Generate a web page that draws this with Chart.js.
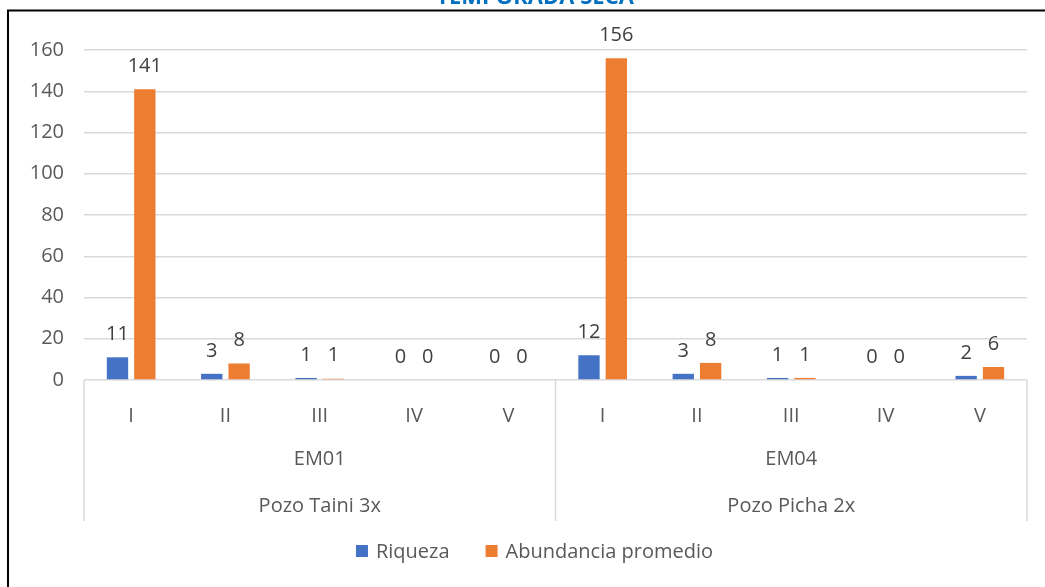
<!DOCTYPE html>
<html>
<head>
<meta charset="utf-8">
<script src="https://cdn.jsdelivr.net/npm/chart.js@4/dist/chart.umd.min.js"></script>
<style>
  html, body { margin: 0; padding: 0; background: #fff; }
  #wrap { width: 1045px; height: 587px; position: relative; }
</style>
</head>
<body>
<div id="wrap"><canvas id="chart"></canvas></div>
<script>
// data
const periods = ['I', 'II', 'III', 'IV', 'V']
const stations = ['EM01', 'EM04']
const wells = ['Pozo Taini 3x', 'Pozo Picha 2x']
const riqueza = [11, 3, 1, 0, 0, 12, 3, 1, 0, 2]
const abundancia = [141, 8, 0.6, 0, 0, 156, 8.3, 1, 0, 6.3]
const yTicks = [0, 20, 40, 60, 80, 100, 120, 140, 160]
const chartTitle = 'TEMPORADA SECA'

const FONT = '"Open Sans", Lato, sans-serif'
const TEXT = '#595959'
const GRID = '#D9D9D9'

// frame + clipped title
const framePlugin = {
  id: 'frame',
  afterDraw(chart) {
    const ctx = chart.ctx
    ctx.save()
    ctx.strokeStyle = '#000'
    ctx.lineWidth = 2
    ctx.beginPath()
    ctx.moveTo(8, chart.height + 2)
    ctx.lineTo(8, 10.5)
    ctx.lineTo(chart.width + 2, 10.5)
    ctx.stroke()
    ctx.fillStyle = '#0070C0'
    ctx.font = 'bold 22px ' + FONT
    ctx.textAlign = 'center'
    ctx.textBaseline = 'alphabetic'
    ctx.fillText(chartTitle, 535, 4)
    ctx.restore()
  }
}

// multi-level category axis: separators, station and well labels
const groupAxisPlugin = {
  id: 'groupAxis',
  afterDraw(chart) {
    const { ctx, chartArea } = chart
    const x = chart.scales.x
    const n = chart.data.labels.length
    const w = (x.right - x.left) / n
    const per = periods.length
    const bottom = chartArea.bottom
    ctx.save()
    ctx.strokeStyle = GRID
    ctx.lineWidth = 1.5
    for (let g = 0; g <= stations.length; g++) {
      const px = x.left + g * per * w
      ctx.beginPath()
      ctx.moveTo(px, bottom)
      ctx.lineTo(px, bottom + 141)
      ctx.stroke()
    }
    ctx.fillStyle = TEXT
    ctx.font = '20px ' + FONT
    ctx.textAlign = 'center'
    ctx.textBaseline = 'middle'
    stations.forEach((s, g) => {
      const cx = x.left + (g + 0.5) * per * w
      ctx.fillText(s, cx, bottom + 79)
      ctx.fillText(wells[g], cx, bottom + 126)
    })
    ctx.restore()
  }
}

// value labels above bars
const valueLabelPlugin = {
  id: 'valueLabels',
  afterDatasetsDraw(chart) {
    const ctx = chart.ctx
    ctx.save()
    ctx.fillStyle = '#404040'
    ctx.font = '20px ' + FONT
    ctx.textAlign = 'center'
    ctx.textBaseline = 'middle'
    chart.data.datasets.forEach((ds, i) => {
      chart.getDatasetMeta(i).data.forEach((bar, j) => {
        ctx.fillText(String(Math.round(ds.data[j])), bar.x, bar.y - 23)
      })
    })
    ctx.restore()
  }
}

// legend drawn centred under the axis
const legendPlugin = {
  id: 'bottomLegend',
  afterDraw(chart) {
    const ctx = chart.ctx
    const box = 12, gapText = 8, gapItem = 36, y = 551
    ctx.save()
    ctx.font = '20px ' + FONT
    const items = chart.data.datasets.map(ds => ({ label: ds.label, color: ds.backgroundColor, tw: ctx.measureText(ds.label).width }))
    const total = items.reduce((s, it) => s + box + gapText + it.tw, 0) + gapItem * (items.length - 1)
    let px = chart.width / 2 - total / 2 + 12
    ctx.textBaseline = 'middle'
    ctx.textAlign = 'left'
    items.forEach(it => {
      ctx.fillStyle = it.color
      ctx.fillRect(px, y - box / 2, box, box)
      px += box + gapText
      ctx.fillStyle = TEXT
      ctx.fillText(it.label, px, y + 1)
      px += it.tw + gapItem
    })
    ctx.restore()
  }
}

new Chart(document.getElementById('chart'), {
  type: 'bar',
  data: {
    labels: stations.flatMap(() => periods),
    datasets: [
      { label: 'Riqueza', data: riqueza, backgroundColor: '#4472C4' },
      { label: 'Abundancia promedio', data: abundancia, backgroundColor: '#ED7D31' }
    ]
  },
  options: {
    responsive: true,
    maintainAspectRatio: false,
    animation: false,
    devicePixelRatio: 1,
    layout: { padding: { top: 50, right: 18, bottom: 66, left: 0 } },
    datasets: { bar: { categoryPercentage: 0.58, barPercentage: 0.78 } },
    plugins: { legend: { display: false }, tooltip: { enabled: false } },
    scales: {
      x: {
        grid: { display: false },
        border: { display: false },
        ticks: { color: TEXT, font: { family: FONT, size: 20 }, padding: 16, maxRotation: 0, autoSkip: false },
        afterFit(scale) { scale.height = 141 }
      },
      y: {
        min: 0,
        max: 160,
        afterBuildTicks(scale) { scale.ticks = yTicks.map(v => ({ value: v })) },
        grid: { color: GRID, lineWidth: 1.5, drawTicks: false },
        border: { display: false },
        ticks: { color: TEXT, font: { family: FONT, size: 20 }, padding: 20 },
        afterFit(scale) { scale.width = 84 }
      }
    }
  },
  plugins: [framePlugin, groupAxisPlugin, valueLabelPlugin, legendPlugin]
})
</script>
</body>
</html>
